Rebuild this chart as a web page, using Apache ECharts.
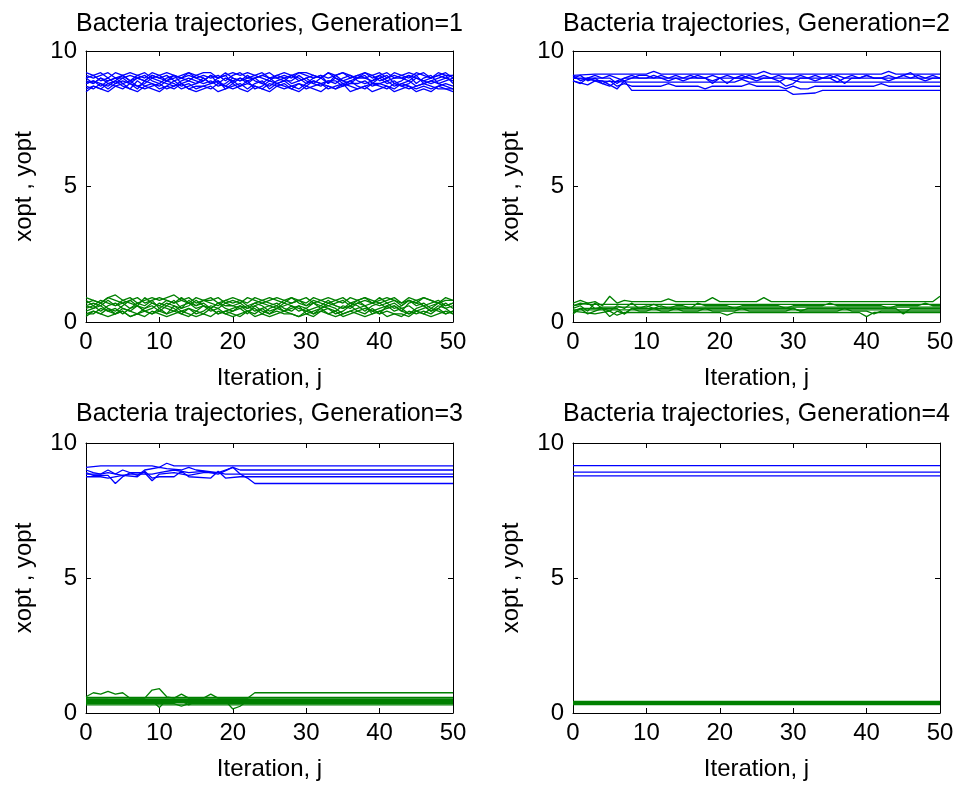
<!DOCTYPE html>
<html>
<head>
<meta charset="utf-8">
<script src="https://cdn.jsdelivr.net/npm/echarts@6/dist/echarts.min.js"></script>
<style>
html,body{margin:0;padding:0;background:#fff;}
#chart{width:959px;height:789px;}
</style>
</head>
<body>
<div id="chart"></div>
<script>
// ---- tick labels / texts ----
const xTickValues = [0, 10, 20, 30, 40, 50];
const yTickValues = [0, 5, 10];
const titles = [
  'Bacteria trajectories, Generation=1',
  'Bacteria trajectories, Generation=2',
  'Bacteria trajectories, Generation=3',
  'Bacteria trajectories, Generation=4'
];
const xLabel = 'Iteration, j';
const yLabel = 'xopt , yopt';

// ---- Generation 1 (value per iteration 0..50) ----
const g1Blue = [
  [8.8,8.9,8.7,8.9,9.0,8.8,8.9,8.7,8.8,9.0, 8.9,8.8,8.7,8.9,9.0,8.9,8.8,8.9,8.7,8.8, 9.0,8.9,9.1,8.9,8.8,8.7,8.9,9.0,8.8,8.9, 9.0,8.8,8.7,8.9,8.8,9.0,9.1,8.9,8.8,8.9, 9.0,8.8,8.9,8.7,8.8,9.0,8.9,8.8,8.9,9.0, 8.9],
  [9.0,9.1,8.9,9.0,8.8,9.0,9.1,9.0,8.9,9.1, 9.0,9.1,8.9,9.0,9.1,9.0,8.9,9.1,9.0,9.2, 9.0,8.9,9.0,9.1,9.0,8.9,9.1,9.0,9.1,8.9, 9.0,9.1,9.0,9.2,9.0,8.9,9.0,9.1,9.0,9.1, 8.9,9.0,9.1,9.0,9.1,9.0,8.9,9.0,9.1,9.0, 9.1],
  [8.6,8.7,8.6,8.8,8.7,8.6,8.8,8.7,8.6,8.7, 8.8,8.6,8.7,8.8,8.6,8.7,8.7,8.6,8.8,8.7, 8.6,8.7,8.8,8.7,8.6,8.8,8.7,8.6,8.7,8.8, 8.6,8.7,8.8,8.6,8.7,8.8,8.7,8.6,8.7,8.8, 8.7,8.6,8.8,8.7,8.6,8.7,8.8,8.7,8.6,8.6, 8.5],
  [8.9,8.8,9.0,8.8,8.9,9.1,8.9,9.0,9.1,8.9, 8.8,9.0,9.1,8.8,8.9,9.1,9.0,8.8,9.0,9.1, 8.8,9.0,8.8,9.0,9.1,9.0,8.8,8.9,9.1,9.0, 8.8,9.0,9.1,8.8,9.1,8.9,8.8,9.0,9.1,8.8, 9.0,9.1,8.8,8.9,9.1,8.8,9.0,9.1,8.8,8.9, 9.0],
  [8.7,8.6,8.8,8.7,8.9,8.7,8.6,8.9,8.7,8.8, 8.6,8.7,8.9,8.7,8.8,8.6,8.7,8.8,8.9,8.6, 8.7,8.8,8.6,8.8,8.9,8.6,8.8,8.7,8.6,8.8, 8.7,8.9,8.8,8.7,8.6,8.7,8.9,8.7,8.6,8.8, 8.8,8.7,8.6,8.8,8.7,8.6,8.7,8.6,8.7,8.8, 8.7],
  [9.1,9.0,9.1,9.2,9.0,9.1,8.9,9.1,9.2,9.0, 9.1,8.9,9.0,9.1,9.2,9.0,9.1,9.0,9.1,8.9, 9.1,9.2,9.0,9.0,9.1,9.2,9.0,9.1,9.0,9.2, 9.1,9.0,9.1,9.0,9.1,9.2,9.0,9.1,9.2,9.0, 9.1,9.2,9.0,9.1,9.0,9.2,9.1,9.0,9.2,9.1, 9.1],
  [8.8,8.9,8.8,8.6,8.8,8.9,8.8,8.6,8.9,8.8, 8.7,8.9,8.8,8.6,8.7,8.8,9.0,8.8,8.9,8.7, 8.9,8.7,8.9,8.6,8.7,8.9,8.8,8.9,8.7,8.6, 8.8,8.9,8.8,8.9,8.9,8.7,8.8,8.8,8.9,8.7, 8.8,8.9,8.7,8.8,8.9,8.7,8.8,8.9,8.8,8.7, 8.6],
  [9.0,8.8,9.0,8.9,9.0,9.0,8.8,9.0,8.9,9.1, 9.0,8.9,9.1,9.0,8.9,8.8,8.9,9.1,8.8,9.0, 8.9,9.0,8.9,9.0,8.8,9.0,9.0,8.9,8.9,9.1, 8.9,8.8,9.0,8.8,9.0,8.8,8.9,9.0,9.0,8.9, 9.1,8.9,9.0,9.0,8.9,9.1,8.8,8.9,9.0,9.1, 8.8],
  [8.5,8.7,8.6,8.5,8.7,8.8,8.6,8.5,8.7,8.6, 8.5,8.7,8.6,8.8,8.6,8.5,8.6,8.7,8.5,8.6, 8.8,8.6,8.5,8.7,8.6,8.5,8.7,8.8,8.6,8.5, 8.7,8.6,8.5,8.7,8.6,8.8,8.5,8.6,8.7,8.5, 8.6,8.7,8.5,8.6,8.7,8.5,8.6,8.5,8.7,8.6, 8.6],
  [9.2,9.1,9.2,9.0,9.2,9.1,9.2,9.1,9.0,9.2, 9.1,9.2,9.1,9.0,9.2,9.1,9.2,9.2,9.0,9.1, 9.2,9.1,9.2,9.1,9.2,9.0,9.1,9.2,9.1,9.2, 9.2,9.1,9.0,9.2,9.1,9.2,9.1,9.0,9.2,9.1, 9.2,9.0,9.2,9.1,9.2,9.1,9.2,9.0,9.1,9.2, 9.0]
];
const g1Green = [
  [0.5,0.6,0.4,0.6,0.7,0.5,0.4,0.6,0.5,0.7, 0.6,0.5,0.4,0.6,0.7,0.5,0.6,0.4,0.5,0.7, 0.6,0.5,0.6,0.4,0.5,0.6,0.7,0.5,0.4,0.6, 0.5,0.7,0.6,0.5,0.4,0.6,0.5,0.7,0.6,0.4, 0.5,0.6,0.7,0.5,0.6,0.4,0.5,0.6,0.7,0.5, 0.6],
  [0.3,0.4,0.3,0.5,0.3,0.4,0.2,0.3,0.4,0.3, 0.5,0.3,0.4,0.3,0.2,0.4,0.3,0.5,0.3,0.4, 0.3,0.2,0.4,0.3,0.5,0.3,0.4,0.3,0.3,0.2, 0.4,0.3,0.5,0.3,0.4,0.2,0.3,0.4,0.3,0.5, 0.3,0.4,0.3,0.2,0.4,0.3,0.4,0.3,0.5,0.3, 0.4],
  [0.7,0.8,0.7,0.9,0.8,0.7,0.8,0.9,0.7,0.8, 0.9,0.8,0.7,0.8,0.9,0.7,0.8,0.8,0.9,0.7, 0.8,0.7,0.9,0.8,0.7,0.8,0.9,0.8,0.7,0.8, 0.7,0.9,0.8,0.7,0.8,0.9,0.7,0.8,0.9,0.8, 0.7,0.8,0.9,0.7,0.8,0.7,0.9,0.8,0.7,0.8, 0.8],
  [0.4,0.5,0.7,0.5,0.4,0.6,0.8,0.6,0.4,0.5, 0.7,0.6,0.8,0.5,0.6,0.8,0.6,0.5,0.7,0.5, 0.4,0.6,0.5,0.7,0.6,0.4,0.5,0.7,0.6,0.5, 0.4,0.5,0.6,0.8,0.6,0.5,0.7,0.6,0.4,0.6, 0.7,0.5,0.6,0.4,0.7,0.8,0.6,0.4,0.5,0.7, 0.5],
  [0.6,0.5,0.6,0.4,0.5,0.3,0.5,0.6,0.4,0.3, 0.4,0.6,0.5,0.3,0.5,0.4,0.6,0.5,0.3,0.4, 0.5,0.6,0.4,0.5,0.3,0.5,0.6,0.4,0.5,0.6, 0.3,0.4,0.5,0.6,0.5,0.3,0.4,0.5,0.6,0.3, 0.4,0.5,0.6,0.4,0.3,0.5,0.6,0.4,0.6,0.5, 0.3],
  [0.8,0.6,0.8,0.7,0.6,0.8,0.7,0.6,0.9,0.7, 0.6,0.8,0.7,0.9,0.7,0.6,0.8,0.7,0.6,0.8, 0.7,0.8,0.6,0.7,0.8,0.7,0.6,0.8,0.9,0.7, 0.6,0.8,0.7,0.6,0.7,0.8,0.6,0.7,0.8,0.7, 0.9,0.7,0.8,0.6,0.8,0.7,0.6,0.7,0.8,0.6, 0.7],
  [0.3,0.3,0.5,0.4,0.3,0.5,0.4,0.3,0.5,0.6, 0.4,0.3,0.6,0.4,0.5,0.3,0.4,0.6,0.5,0.3, 0.4,0.5,0.3,0.6,0.4,0.3,0.5,0.4,0.6,0.4, 0.5,0.3,0.4,0.5,0.3,0.4,0.6,0.4,0.5,0.4, 0.3,0.6,0.4,0.5,0.3,0.4,0.3,0.5,0.4,0.3, 0.4],
  [0.6,0.7,0.6,0.8,0.6,0.7,0.5,0.7,0.6,0.8, 0.5,0.7,0.6,0.5,0.8,0.6,0.7,0.5,0.7,0.6, 0.6,0.7,0.5,0.6,0.7,0.6,0.5,0.6,0.7,0.8, 0.6,0.7,0.5,0.7,0.6,0.5,0.6,0.8,0.6,0.7, 0.6,0.7,0.5,0.6,0.8,0.6,0.7,0.5,0.7,0.6, 0.7],
  [0.2,0.4,0.3,0.2,0.3,0.4,0.2,0.3,0.2,0.4, 0.3,0.2,0.3,0.4,0.3,0.2,0.3,0.2,0.4,0.3, 0.2,0.3,0.4,0.2,0.3,0.2,0.3,0.4,0.3,0.2, 0.3,0.2,0.4,0.3,0.2,0.3,0.4,0.3,0.2,0.3, 0.4,0.2,0.3,0.3,0.2,0.4,0.3,0.2,0.3,0.4, 0.3],
  [0.9,0.8,0.7,0.9,1.0,0.8,0.9,0.7,0.8,0.9, 0.8,0.9,1.0,0.8,0.7,0.9,0.8,0.9,0.7,0.8, 0.9,0.8,0.7,0.9,0.8,0.9,0.8,0.7,0.9,0.8, 0.9,0.7,0.8,0.9,0.8,0.7,0.9,0.8,0.9,0.7, 0.8,0.9,0.8,0.7,0.9,0.8,0.9,0.8,0.7,0.9, 0.8]
];

// ---- Generation 2 (per-iteration values, or [iteration, value] breakpoints) ----
const g2Blue = [
  [[0,9.1],[3,9.15],[10,9.15],[11,9.25],[12,9.15],[25,9.15],[26,9.25],[27,9.15],[42,9.15],[43,9.25],[44,9.15],[50,9.15]],
  [9.0,9.1,8.9,9.0,8.8,8.7,8.9,9.0,9.1,9.0, 9.0,9.1,9.0,8.9,9.0,8.9,9.0,9.1,9.0,8.9, 9.0,8.8,9.0,9.1,9.0,8.9,9.0,9.0,8.9,8.7, 8.8,9.0,9.0,8.9,9.0,9.1,9.0,8.8,9.0,9.0, 9.1,9.0,9.0,8.9,9.0,9.1,9.2,9.0,8.9,9.0, 9.0],
  [[0,9.0],[5,9.0],[6,8.8],[7,9.0],[18,9.0],[19,8.8],[20,9.0],[35,9.0],[36,8.85],[37,9.0],[50,9.0]],
  [[0,8.9],[2,8.75],[3,8.9],[8,8.85],[22,8.85],[23,8.95],[24,8.85],[28,8.85],[29,9.0],[31,8.85],[50,8.85]],
  [[0,9.0],[4,8.9],[6,8.6],[7,8.9],[8,8.55],[29,8.55],[30,8.4],[33,8.45],[34,8.55],[50,8.55]],
  [8.9,8.8,9.0,8.9,8.8,8.9,8.7,8.8,8.7,8.7, 8.7,8.7,8.7,8.8,8.7,8.7,8.7,8.7,8.6,8.7, 8.7,8.7,8.7,8.7,8.8,8.7,8.7,8.7,8.7,8.6, 8.7,8.6,8.6,8.7,8.7,8.7,8.7,8.7,8.7,8.7, 8.7,8.7,8.8,8.7,8.7,8.7,8.7,8.7,8.7,8.7, 8.7],
  [9.1,8.9,9.0,9.1,9.0,9.1,9.0,8.9,9.0,9.1, 9.1,9.0,9.1,9.0,9.1,9.0,9.1,9.0,9.0,9.1, 9.0,9.1,9.0,9.0,9.1,9.0,9.1,9.0,9.1,9.0, 9.0,9.1,9.0,9.1,9.0,9.0,9.1,9.0,9.1,9.0, 9.1,9.0,9.0,9.1,9.0,9.1,9.0,9.1,9.0,9.1, 9.0]
];
const g2Green = [
  [[0,0.7],[1,0.8],[2,0.7],[3,0.75],[4,0.6],[5,0.95],[6,0.7],[7,0.8],[8,0.75],[12,0.75],[13,0.85],[14,0.75],[18,0.75],[19,0.9],[20,0.75],[25,0.75],[26,0.9],[27,0.75],[49,0.75],[50,0.95]],
  [0.5,0.6,0.4,0.7,0.5,0.4,0.6,0.5,0.7,0.5, 0.6,0.5,0.6,0.5,0.6,0.6,0.5,0.7,0.6,0.6, 0.6,0.6,0.5,0.6,0.6,0.6,0.6,0.6,0.6,0.5, 0.6,0.6,0.6,0.6,0.6,0.7,0.6,0.6,0.6,0.6, 0.6,0.6,0.6,0.5,0.6,0.6,0.6,0.6,0.7,0.6, 0.6],
  [0.4,0.5,0.3,0.4,0.5,0.2,0.4,0.3,0.5,0.4, 0.4,0.5,0.4,0.4,0.5,0.4,0.4,0.4,0.5,0.4, 0.4,0.4,0.4,0.5,0.4,0.4,0.4,0.4,0.4,0.4, 0.5,0.4,0.4,0.4,0.4,0.4,0.4,0.5,0.4,0.4, 0.4,0.3,0.4,0.4,0.4,0.4,0.4,0.4,0.4,0.4, 0.4],
  [[0,0.4],[3,0.3],[5,0.4],[6,0.25],[7,0.35],[20,0.35],[21,0.25],[22,0.35],[39,0.35],[40,0.2],[41,0.35],[50,0.35]],
  [[0,0.6],[2,0.7],[3,0.5],[4,0.55],[10,0.55],[11,0.65],[12,0.55],[50,0.55]],
  [[0,0.3],[1,0.5],[6,0.5],[7,0.3],[8,0.5],[30,0.5],[31,0.4],[32,0.5],[44,0.5],[45,0.3],[46,0.5],[50,0.5]],
  [[0,0.6],[1,0.7],[2,0.65],[50,0.65]],
  [[0,0.45],[50,0.45]]
];

// ---- Generation 3 ([iteration, value] breakpoints) ----
const g3Blue = [
  [[0,9.1],[2,9.15],[9,9.15],[10,9.1],[11,9.25],[12,9.15],[50,9.15]],
  [[0,9.0],[1,8.9],[2,8.85],[3,9.0],[4,8.85],[5,9.0],[7,8.8],[8,9.0],[10,9.1],[11,9.05],[13,9.0],[14,9.1],[15,9.0],[18,8.9],[19,9.0],[20,9.1],[21,9.0],[50,9.0]],
  [[0,8.9],[1,8.8],[3,8.8],[4,8.5],[5,8.75],[6,8.9],[8,8.9],[9,8.6],[10,8.85],[12,8.9],[14,8.8],[16,8.9],[18,8.9],[19,8.85],[50,8.85]],
  [[0,8.75],[2,8.75],[3,8.7],[5,8.8],[7,8.75],[8,8.95],[9,8.7],[10,8.75],[12,8.75],[13,8.95],[14,8.75],[17,8.7],[18,8.95],[19,8.7],[21,8.75],[50,8.75]],
  [[0,8.85],[2,8.85],[3,8.9],[5,8.8],[6,8.85],[9,8.85],[10,8.9],[12,9.0],[14,8.9],[16,8.95],[18,8.85],[20,9.1],[21,8.85],[22,8.7],[23,8.5],[50,8.5]]
];
const g3Green = [
  [[0,0.6],[1,0.75],[2,0.7],[3,0.8],[4,0.7],[5,0.75],[6,0.55],[8,0.55],[9,0.85],[10,0.9],[11,0.6],[12,0.55],[13,0.7],[14,0.55],[16,0.55],[17,0.7],[18,0.55],[22,0.55],[23,0.75],[50,0.75]],
  [[0,0.5],[3,0.5],[4,0.4],[9,0.45],[10,0.2],[11,0.5],[12,0.4],[13,0.45],[14,0.3],[15,0.45],[19,0.45],[20,0.15],[21,0.25],[22,0.45],[50,0.45]],
  [[0,0.55],[50,0.55]],
  [[0,0.5],[50,0.5]],
  [[0,0.35],[12,0.35],[13,0.25],[14,0.35],[50,0.35]],
  [[0,0.3],[50,0.3]],
  [[0,0.42],[50,0.42]],
  [[0,0.38],[50,0.38]],
  [[0,0.47],[50,0.47]],
  [[0,0.58],[50,0.58]]
];

// ---- Generation 4 ([iteration, value] breakpoints) ----
const g4Blue = [
  [[0,9.16],[50,9.16]],
  [[0,8.92],[50,8.92]],
  [[0,8.78],[50,8.78]]
];
const g4Green = [
  [[0,0.31],[50,0.31]],
  [[0,0.35],[50,0.35]],
  [[0,0.39],[50,0.39]],
  [[0,0.43],[50,0.43]]
];

const panelBlue = [g1Blue, g2Blue, g3Blue, g4Blue];
const panelGreen = [g1Green, g2Green, g3Green, g4Green];

// ---- layout / style ----
const FONT = "'Liberation Sans', Arial, Helvetica, sans-serif";
const BLUE = '#0000ff';
const GREEN = '#008000';
const LINE_W = 1.3;
const layout = [
  { left: 86, top: 51, width: 367, height: 271, titleY: 24 },
  { left: 573, top: 51, width: 367, height: 271, titleY: 24 },
  { left: 86, top: 443, width: 367, height: 270, titleY: 414 },
  { left: 573, top: 443, width: 367, height: 270, titleY: 414 }
];

function toPoints(traj) {
  if (typeof traj[0] === 'number') return traj.map((v, i) => [i, v]);
  return traj;
}

const xMin = xTickValues[0], xMax = xTickValues[xTickValues.length - 1];
const xInt = xTickValues[1] - xTickValues[0];
const yMin = yTickValues[0], yMax = yTickValues[yTickValues.length - 1];
const yInt = yTickValues[1] - yTickValues[0];

const grids = [], xAxes = [], yAxes = [], series = [], graphics = [];
const lineStyleAxis = { color: '#000', width: 1 };
const tickStyle = { show: true, inside: true, length: 5, lineStyle: { color: '#000', width: 1 } };

layout.forEach((p, i) => {
  grids.push({ left: p.left, top: p.top, width: p.width, height: p.height, containLabel: false });
  const labelStyle = { color: '#000', fontSize: 24, fontFamily: FONT };
  xAxes.push({
    gridIndex: i, type: 'value', position: 'bottom', min: xMin, max: xMax, interval: xInt,
    axisLine: { show: true, onZero: false, lineStyle: lineStyleAxis },
    axisTick: tickStyle,
    axisLabel: Object.assign({ margin: 8 }, labelStyle),
    splitLine: { show: false },
    name: xLabel, nameLocation: 'middle', nameGap: 44,
    nameTextStyle: { color: '#000', fontSize: 24, fontFamily: FONT }
  });
  xAxes.push({
    gridIndex: i, type: 'value', position: 'top', min: xMin, max: xMax, interval: xInt,
    axisLine: { show: true, onZero: false, lineStyle: lineStyleAxis },
    axisTick: tickStyle, axisLabel: { show: false }, splitLine: { show: false }
  });
  yAxes.push({
    gridIndex: i, type: 'value', position: 'left', min: yMin, max: yMax, interval: yInt,
    axisLine: { show: true, onZero: false, lineStyle: lineStyleAxis },
    axisTick: tickStyle,
    axisLabel: Object.assign({ margin: 9 }, labelStyle),
    splitLine: { show: false },
    name: yLabel, nameLocation: 'middle', nameGap: 50, nameRotate: 90,
    nameTextStyle: { color: '#000', fontSize: 24, fontFamily: FONT }
  });
  yAxes.push({
    gridIndex: i, type: 'value', position: 'right', min: yMin, max: yMax, interval: yInt,
    axisLine: { show: true, onZero: false, lineStyle: lineStyleAxis },
    axisTick: tickStyle, axisLabel: { show: false }, splitLine: { show: false }
  });
  graphics.push({
    type: 'text', x: p.left + p.width / 2, y: p.titleY, silent: true,
    style: { text: titles[i], align: 'center', verticalAlign: 'middle', fill: '#000',
      font: '25px ' + FONT }
  });
  const addSeries = (list, color) => {
    list.forEach(traj => {
      series.push({
        type: 'line', xAxisIndex: 2 * i, yAxisIndex: 2 * i,
        data: toPoints(traj), showSymbol: false, symbol: 'none',
        lineStyle: { color: color, width: LINE_W }, itemStyle: { color: color },
        silent: true, animation: false, clip: true
      });
    });
  };
  addSeries(panelBlue[i], BLUE);
  addSeries(panelGreen[i], GREEN);
});

const chart = echarts.init(document.getElementById('chart'), null, { renderer: 'canvas' });
chart.setOption({
  backgroundColor: '#ffffff',
  animation: false,
  grid: grids,
  xAxis: xAxes,
  yAxis: yAxes,
  series: series,
  graphic: graphics
});
</script>
</body>
</html>
